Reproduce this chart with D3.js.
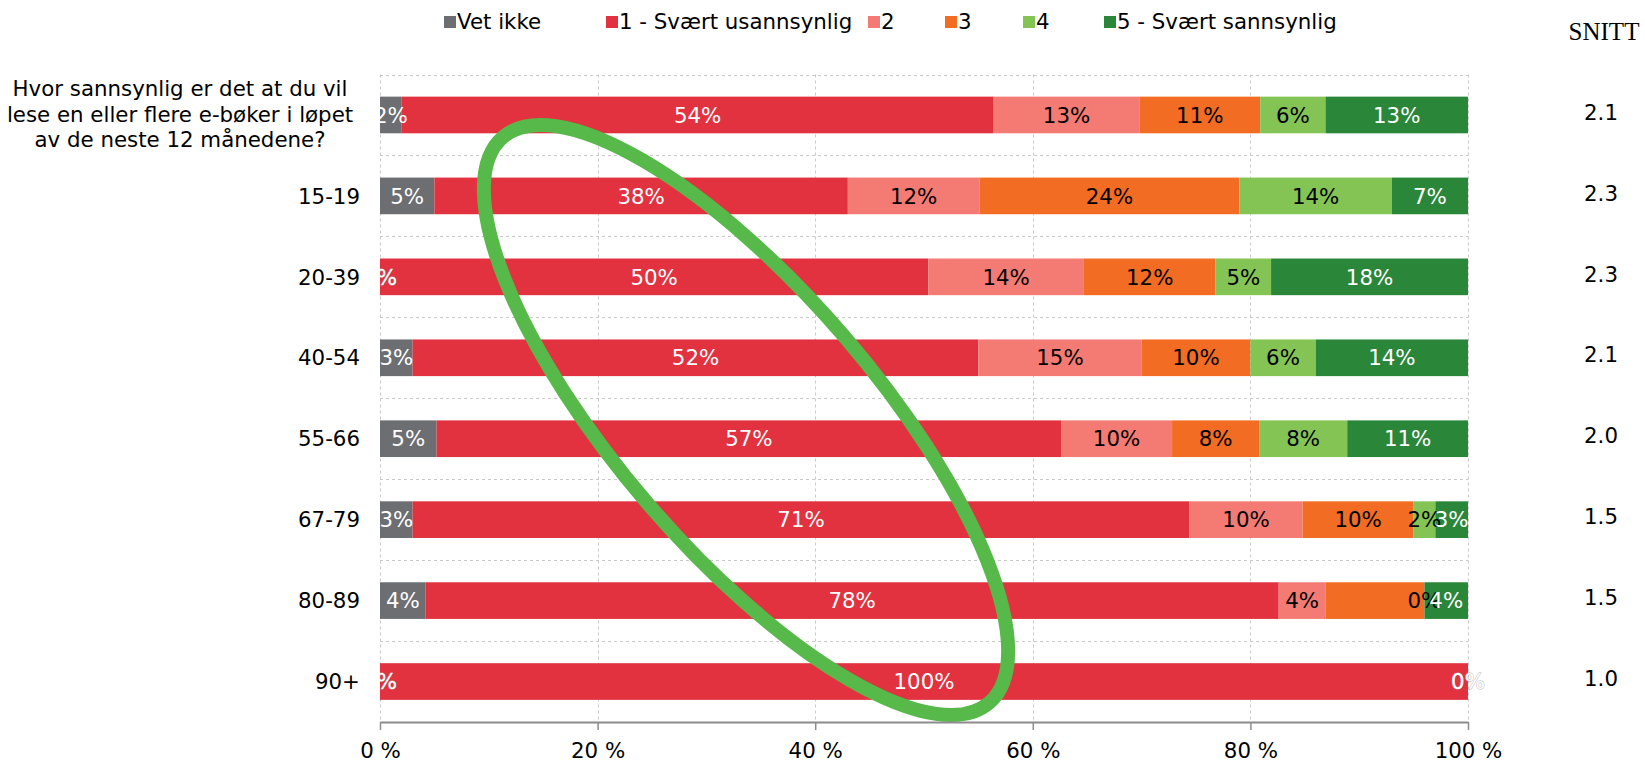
<!DOCTYPE html>
<html>
<head>
<meta charset="utf-8">
<script src="https://cdn.jsdelivr.net/npm/d3@7"></script>
<style>
  body { margin: 0; background: #fff; }
  svg { display: block; }
</style>
</head>
<body>
<svg id="chart" width="1645" height="761"></svg>
<script>
// Row labels (the first row is the question itself, split into lines)
const categoryLabels = [
  ["Hvor sannsynlig er det at du vil", "lese en eller flere e-bøker i løpet", "av de neste 12 månedene?"],
  ["15-19"], ["20-39"], ["40-54"], ["55-66"], ["67-79"], ["80-89"], ["90+"]
];

// Answer categories, in stacking order
const seriesNames = ["Vet ikke", "1 - Svært usannsynlig", "2", "3", "4", "5 - Svært sannsynlig"];
const seriesColors = ["#6d6e71", "#e2323f", "#f47b74", "#f26c23", "#84c455", "#2a8638"];
const labelColors  = ["#ffffff", "#ffffff", "#000000", "#000000", "#000000", "#ffffff"];

// Share of respondents (%) per row
const vetIkke          = [2.0, 5.0, 0.0, 3.0, 5.2, 3.0, 4.2, 0];
const svartUsannsynlig = [54.4, 38.0, 50.4, 52.0, 57.4, 71.4, 78.4, 100];
const svar2            = [13.4, 12.1, 14.3, 15.0, 10.2, 10.4, 4.3, 0];
const svar3            = [11.1, 23.9, 12.1, 10.0, 8.0, 10.2, 9.1, 0];
const svar4            = [6.0, 14.0, 5.1, 6.0, 8.1, 2.0, 0, 0];
const svartSannsynlig  = [13.1, 7.0, 18.1, 14.0, 11.1, 3.0, 4.0, 0];

// Average score per row
const snitt = [2.1, 2.3, 2.3, 2.1, 2.0, 1.5, 1.5, 1.0];

// Data labels that are left out: [row, series]
const hiddenLabels = [[6, 3], [7, 2], [7, 3], [7, 4]];

const xTicks = [0, 20, 40, 60, 80, 100];

const seriesValues = [vetIkke, svartUsannsynlig, svar2, svar3, svar4, svartSannsynlig];

const FONT = "Verdana, 'DejaVu Sans', sans-serif";
const FS = 21.33;

const svg = d3.select("#chart");

const plot = { left: 380, right: 1468, top: 74.5, bottom: 722 };

const x = d3.scaleLinear().domain([0, 100]).range([plot.left, plot.right]);
const y = d3.scaleBand()
  .domain(d3.range(categoryLabels.length))
  .range([plot.top, plot.bottom])
  .paddingInner(0.547)
  .paddingOuter(0.2735);

// Grid: dashed lines on the band boundaries and the percentage ticks
const grid = svg.append("g").attr("stroke", "#c9c9c9").attr("stroke-width", 1)
  .attr("stroke-dasharray", "3,3").attr("fill", "none");
grid.selectAll("line.h")
  .data(d3.range(categoryLabels.length))
  .join("line")
  .attr("class", "h")
  .attr("x1", plot.left).attr("x2", plot.right)
  .attr("y1", i => Math.round(plot.top + i * y.step()) + 0.5)
  .attr("y2", i => Math.round(plot.top + i * y.step()) + 0.5);
grid.selectAll("line.v")
  .data(xTicks)
  .join("line")
  .attr("class", "v")
  .attr("x1", d => Math.round(x(d)) + 0.5).attr("x2", d => Math.round(x(d)) + 0.5)
  .attr("y1", plot.top).attr("y2", plot.bottom);

// Stack the rows
const rows = d3.range(categoryLabels.length).map(i => {
  const r = { row: i };
  seriesNames.forEach((s, k) => { r[s] = seriesValues[k][i]; });
  return r;
});
const stacked = d3.stack().keys(seriesNames)(rows);

const bars = svg.append("g");
stacked.forEach((layer, k) => {
  bars.append("g")
    .attr("fill", seriesColors[k])
    .selectAll("rect")
    .data(layer)
    .join("rect")
    .attr("x", d => x(d[0]))
    .attr("width", d => Math.max(0, x(d[1]) - x(d[0])))
    .attr("y", (d, i) => y(i))
    .attr("height", y.bandwidth());
});

// Highlight ring around the "1 - Svært usannsynlig" progression
const ringCx = 746, ringCy = 420;
svg.append("ellipse")
  .attr("cx", ringCx).attr("cy", ringCy)
  .attr("rx", 373).attr("ry", 129)
  .attr("transform", `rotate(49.3 ${ringCx} ${ringCy})`)
  .attr("fill", "none")
  .attr("stroke", "#57b94a")
  .attr("stroke-width", 14);

// Value labels, clipped at the left edge of the plot
svg.append("clipPath").attr("id", "labelClip")
  .append("rect").attr("x", plot.left).attr("y", 0).attr("width", 1645 - plot.left).attr("height", 761);

const isHidden = (i, k) => hiddenLabels.some(h => h[0] === i && h[1] === k);
const labels = svg.append("g").attr("clip-path", "url(#labelClip)")
  .attr("font-family", FONT).attr("font-size", FS).attr("text-anchor", "middle");
stacked.forEach((layer, k) => {
  labels.selectAll(null)
    .data(layer.map((d, i) => ({ d, i })).filter(o => !isHidden(o.i, k)))
    .join("text")
    .attr("x", o => x((o.d[0] + o.d[1]) / 2))
    .attr("y", o => y(o.i) + y.bandwidth() / 2)
    .attr("dy", "0.36em")
    .attr("fill", labelColors[k])
    .attr("stroke", o => (o.d[1] - o.d[0] === 0 && labelColors[k] === "#ffffff") ? "#b0b0b0" : "none")
    .attr("stroke-width", 0.8)
    .attr("paint-order", "stroke")
    .text(o => d3.format(".0f")(o.d[1] - o.d[0]) + "%");
});

// Bottom axis
const axis = svg.append("g")
  .attr("transform", `translate(0,${plot.bottom})`)
  .call(d3.axisBottom(x).tickValues(xTicks).tickFormat(d => d + " %")
    .tickSize(8).tickSizeOuter(0).tickPadding(13));
axis.select(".domain").attr("stroke", "#8c8c8c").attr("stroke-width", 2);
axis.selectAll(".tick line").attr("stroke", "#8c8c8c").attr("stroke-width", 1.5);
axis.selectAll(".tick text").attr("font-family", FONT).attr("font-size", FS).attr("fill", "#000");

// Row labels
const rowLabels = svg.append("g").attr("font-family", FONT).attr("font-size", FS).attr("fill", "#000");
categoryLabels.forEach((lines, i) => {
  const cy = y(i) + y.bandwidth() / 2;
  if (lines.length === 1) {
    rowLabels.append("text")
      .attr("x", 360).attr("y", cy).attr("dy", "0.36em")
      .attr("text-anchor", "end").text(lines[0]);
  } else {
    const lh = 25.2;
    lines.forEach((ln, j) => {
      rowLabels.append("text")
        .attr("x", 180).attr("y", cy + (j - (lines.length - 1) / 2) * lh - 1).attr("dy", "0.36em")
        .attr("text-anchor", "middle").text(ln);
    });
  }
});

// Average column
svg.append("text")
  .attr("x", 1604).attr("y", 40)
  .attr("text-anchor", "middle")
  .attr("font-family", "'Liberation Serif', 'Times New Roman', serif")
  .attr("font-size", 25)
  .text("SNITT");
svg.append("g").attr("font-family", FONT).attr("font-size", FS).attr("text-anchor", "middle")
  .selectAll("text")
  .data(snitt)
  .join("text")
  .attr("x", 1601)
  .attr("y", (d, i) => y(i) + y.bandwidth() / 2 - 3)
  .attr("dy", "0.36em")
  .text(d => d3.format(".1f")(d));

// Legend
const legendX = [444, 606, 868, 945, 1023, 1104];
const legend = svg.append("g").attr("font-family", FONT).attr("font-size", FS);
seriesNames.forEach((s, k) => {
  const g = legend.append("g").attr("transform", `translate(${legendX[k]},0)`);
  g.append("rect").attr("x", 0).attr("y", 16).attr("width", 12).attr("height", 12).attr("fill", seriesColors[k]);
  g.append("text").attr("x", 13).attr("y", 29).text(s);
});
</script>
</body>
</html>
